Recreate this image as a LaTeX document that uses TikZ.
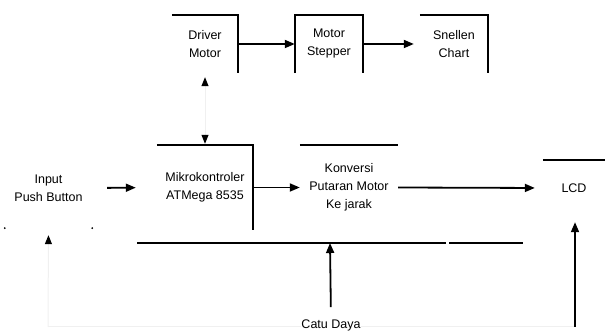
\documentclass[tikz,border=0pt]{standalone}
\usepackage{fontspec}
\setmainfont{Liberation Sans}
\usetikzlibrary{arrows.meta}
\begin{document}
\begin{tikzpicture}[x=1pt,y=-1pt,
  blk/.style={inner sep=0pt,minimum width=#1,align=center,font=\fontsize{12.5}{18}\selectfont},
  txt/.style={inner sep=0pt,align=center,font=\fontsize{12.5}{18}\selectfont},
  edge/.style={line width=1.8pt},
  faint/.style={line width=1pt,draw=black!6},
  arr/.style={line width=1.8pt,-{Triangle[length=10pt,width=8pt]}},
  tipb/.style={-{Triangle[length=9pt,width=7pt,black]}}
]
\useasboundingbox (0,0) rectangle (605,336);
% nodes
\node[blk=66pt,minimum height=58pt] (driver) at (205,44) {Driver\\Motor};
\node[blk=68pt,minimum height=58pt] (stepper) at (329,44) {Motor\\Stepper};
\node[blk=68pt,minimum height=58pt] (snellen) at (454,44) {Snellen\\Chart};
\node[blk=87pt,minimum height=80pt] (input) at (48.5,188) {Input\\Push Button};
\node[blk=96pt,minimum height=85pt] (mikro) at (205,187.5) {Mikrokontroler\\ATMega 8535};
\node[blk=98pt,minimum height=85pt] (konv) at (349,187.5) {Konversi\\Putaran Motor\\Ke jarak};
\node[blk=62pt,minimum height=56pt] (lcd) at (574,188) {LCD};
\node[txt] (catu) at (331,325) {Catu Daya};
\coordinate (busL) at (137,243);
\coordinate (busG1) at (446,243);
\coordinate (busG2) at (449,243);
\coordinate (busR) at (523,243);
\coordinate (busC) at (330,243);
\coordinate (botL) at (48,327);
\coordinate (botR) at (575,327);
% partial borders
\draw[edge] (driver.north west) -- (driver.north east) -- (driver.south east);
\draw[edge] (stepper.south west) -- (stepper.north west) -- (stepper.north east) -- (stepper.south east);
\draw[edge] (snellen.north west) -- (snellen.north east) -- (snellen.south east);
\draw[edge] (mikro.north west) -- (mikro.north east) -- (mikro.south east);
\draw[edge] (konv.north west) -- (konv.north east);
\draw[edge] (lcd.north west) -- (lcd.north east);
\fill (input.south west) circle (1pt);
\fill (input.south east) circle (1pt);
% bus
\draw[edge] (busL) -- (busG1);
\draw[edge] (busG2) -- (busR);
% faint lines
\draw[faint] (botL) -- (catu.west |- botL);
\draw[faint] (catu.east |- botR) -- (botR);
\draw[faint,tipb,shorten >=7pt] (botL) -- (input.south);
\draw[faint,{Triangle[length=9pt,width=7pt,black]}-{Triangle[length=9pt,width=7pt,black]},shorten <=4pt,shorten >=1pt] (driver.south) -- (mikro.north);
% arrows
\draw[arr] (driver.east) -- (stepper.west);
\draw[arr,shorten >=6pt] (stepper.east) -- (snellen.west);
\draw[arr,shorten <=15pt,shorten >=21pt] (input.east) -- (mikro.west);
\draw[arr] (mikro.east) -- (konv.west);
\draw[arr,shorten >=8pt] (konv.east) -- (lcd.west);
\draw[arr,shorten <=12pt] (catu.north) -- (busC);
\draw[arr,shorten >=6pt] (botR) -- (lcd.south -| botR);
\end{tikzpicture}
\end{document}
